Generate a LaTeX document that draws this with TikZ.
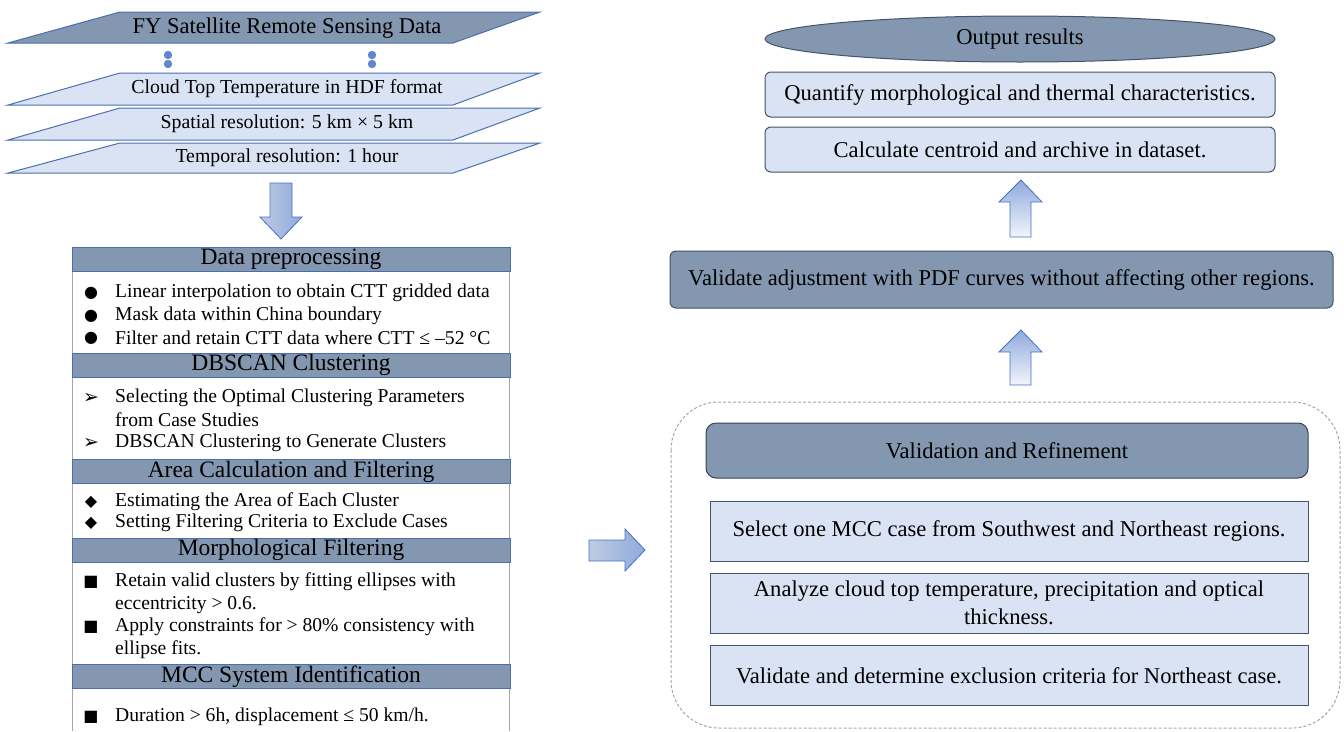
\documentclass[tikz,border=0pt]{standalone}
\usepackage{fontspec}
\setmainfont{Liberation Serif}
\newfontfamily\symfont{DejaVu Sans}
\usetikzlibrary{shapes.geometric}

\definecolor{slate}{HTML}{8497B0}
\definecolor{paleblue}{HTML}{DAE3F3}
\definecolor{edgeblue}{HTML}{4A6FB0}
\definecolor{edgedark}{HTML}{44546A}
\definecolor{sidegray}{HTML}{A6A6A6}
\definecolor{dotblue}{HTML}{4472C4}
\definecolor{arrowdark}{HTML}{8FAADC}
\definecolor{arrowlight}{HTML}{F2F5FB}
\definecolor{arrowmid}{HTML}{BFCBE3}

\begin{document}
\begin{tikzpicture}[
	x=1pt, y=-1pt,
	sheetdark/.style={draw=edgeblue, fill=slate, line width=1},
	sheetlight/.style={draw=edgeblue, fill=paleblue, line width=1},
	sheettxt/.style={inner sep=0pt, font=\fontsize{19.8}{21}\selectfont},
	sechead/.style={draw=edgeblue, fill=slate, line width=1, minimum width=438, minimum height=24, inner sep=0pt, font=\fontsize{23.5}{24}\selectfont},
	bodytxt/.style={anchor=west, inner sep=0pt, font=\fontsize{19.6}{22.5}\selectfont},
	bulletsym/.style={inner sep=0pt, font=\symfont\fontsize{16}{16}\selectfont},
	resbox/.style={draw=edgedark, fill=paleblue, line width=1, rounded corners=6, minimum width=510, minimum height=45, inner sep=0pt, font=\fontsize{22.6}{24}\selectfont},
	stepbox/.style={draw=edgedark, fill=paleblue, line width=1, minimum width=598, minimum height=60, inner sep=0pt, align=center, font=\fontsize{22.6}{28}\selectfont},
	blockarrow/.style={draw=dotblue, line width=0.8}
]
\useasboundingbox (0,0) rectangle (1344,731);

% input data sheets
\filldraw[sheetdark] (8,43) -- (120,12) -- (540,12) -- (453,43) -- cycle;
\node[sheettxt, font=\fontsize{22.5}{24}\selectfont] (fydata) at (287,28) {FY Satellite Remote Sensing Data};
\foreach \t/\b/\name/\txt in {73/105/cttfile/{Cloud Top Temperature in HDF format},
	108/140/spatres/{Spatial resolution: 5 km × 5 km},
	143/173/tempres/{Temporal resolution: 1 hour}}{
	\filldraw[sheetlight] (8,\b) -- (120,\t) -- (540,\t) -- (453,\b) -- cycle;
	\node[sheettxt] (\name) at (287,{(\t+\b)/2}) {\txt};
}
\foreach \xx in {168,372}{
	\fill[dotblue!85] (\xx,55) circle (4.2);
	\fill[dotblue!85] (\xx,64) circle (4.2);
}

% down arrow
\draw[blockarrow, left color=arrowmid, middle color=arrowlight, right color=arrowdark]
	(270,183) -- (292,183) -- (292,217) -- (302,217) -- (281,239) -- (260,217) -- (270,217) -- cycle;

% processing column
\coordinate (colbotL) at (72,731);
\coordinate (colbotR) at (509,731);
\draw[sidegray, line width=1] (72,259) -- (colbotL);
\draw[sidegray, line width=1] (509,259) -- (colbotR);

\node[sechead] (dpre) at (291,259) {Data preprocessing};
\node[sechead] (dbscan) at (291,365) {DBSCAN Clustering};
\node[sechead] (areaflt) at (291,471.5) {Area Calculation and Filtering};
\node[sechead] (morph) at (291,550) {Morphological Filtering};
\node[sechead] (mccid) at (291,676.5) {MCC System Identification};

\node[bulletsym] (b1) at (91,293) {●};
\node[bodytxt] (t1) at (115,293) {Linear interpolation to obtain CTT gridded data};
\node[bulletsym] (b2) at (91,316) {●};
\node[bodytxt] (t2) at (115,316) {Mask data within China boundary};
\node[bulletsym] (b3) at (91,338) {●};
\node[bodytxt] (t3) at (115,338) {Filter and retain CTT data where CTT ≤ –52 °C};

\node[bulletsym, font=\symfont\fontsize{19}{19}\selectfont] (b4) at (91,398) {➢};
\node[bodytxt] (t4) at (115,398) {Selecting the Optimal Clustering Parameters};
\node[bodytxt] (t4b) at (115,420) {from Case Studies};
\node[bulletsym, font=\symfont\fontsize{19}{19}\selectfont] (b5) at (91,443) {➢};
\node[bodytxt] (t5) at (115,443) {DBSCAN Clustering to Generate Clusters};

\node[bulletsym] (b6) at (91,502) {◆};
\node[bodytxt] (t6) at (115,502) {Estimating the Area of Each Cluster};
\node[bulletsym] (b7) at (91,523) {◆};
\node[bodytxt] (t7) at (115,523) {Setting Filtering Criteria to Exclude Cases};

\node[bulletsym] (b8) at (91,582) {■};
\node[bodytxt] (t8) at (115,582) {Retain valid clusters by fitting ellipses with};
\node[bodytxt] (t8b) at (115,605) {eccentricity > 0.6.};
\node[bulletsym] (b9) at (91,627) {■};
\node[bodytxt] (t9) at (115,627) {Apply constraints for > 80\% consistency with};
\node[bodytxt] (t9b) at (115,650) {ellipse fits.};

\node[bulletsym] (b10) at (91,717) {■};
\node[bodytxt] (t10) at (115,717) {Duration > 6h, displacement ≤ 50 km/h.};

% right arrow
\draw[blockarrow, left color=arrowmid, middle color=arrowlight, right color=arrowdark]
	(589,540) -- (625,540) -- (625,529) -- (645,550) -- (625,571) -- (625,561) -- (589,561) -- cycle;

% validation block
\draw[sidegray, line width=1, dash pattern=on 3pt off 2pt, rounded corners=48] (671,402) rectangle (1340,728);
\node[draw=edgedark!80!black, fill=slate, line width=1, rounded corners=10, minimum width=602, minimum height=55, inner sep=0pt, font=\fontsize{22.6}{24}\selectfont] (valref) at (1007,450.5) {Validation and Refinement};
\node[stepbox] (selcase) at (1009,531) {Select one MCC case from Southwest and Northeast regions.};
\node[stepbox] (analyze) at (1009,603) {Analyze cloud top temperature, precipitation and optical\\thickness.};
\node[stepbox] (exclude) at (1009,675.5) {Validate and determine exclusion criteria for Northeast case.};

% up arrows
\draw[blockarrow, top color=arrowdark, bottom color=arrowlight]
	(1010,385) -- (1010,352) -- (999,352) -- (1021,330) -- (1042,352) -- (1031,352) -- (1031,385) -- cycle;
\node[resbox, fill=slate, rounded corners=6, minimum width=663, minimum height=57] (pdfval) at (1001.5,279.5) {Validate adjustment with PDF curves without affecting other regions.};
\draw[blockarrow, top color=arrowdark, bottom color=arrowlight]
	(1010,237) -- (1010,202) -- (999,202) -- (1021,180) -- (1042,202) -- (1031,202) -- (1031,237) -- cycle;

% outputs
\node[resbox] (centroid) at (1020,149.5) {Calculate centroid and archive in dataset.};
\node[resbox] (quantify) at (1020,94.5) {Quantify morphological and thermal characteristics.};
\node[ellipse, draw=edgedark, fill=slate, line width=1, minimum width=510, minimum height=46, inner sep=0pt, font=\fontsize{22.6}{24}\selectfont] (output) at (1020,39) {Output results};
\end{tikzpicture}
\end{document}
